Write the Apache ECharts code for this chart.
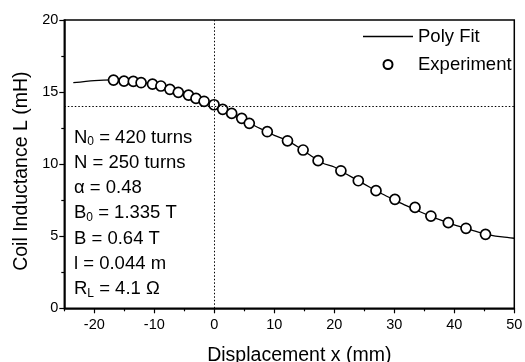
<!DOCTYPE html>
<html>
<head>
<meta charset="utf-8">
<script src="https://cdn.jsdelivr.net/npm/echarts@6/dist/echarts.min.js"></script>
<style>html,body{margin:0;padding:0;background:#fff;}#c{width:525px;height:362px;}</style>
</head>
<body>
<div id="c"></div>
<script>
// Experimental points
var expX = [-16.8,-15.05,-13.5,-12.2,-10.3,-8.9,-7.4,-6.0,-4.3,-3.05,-1.7,-0.05,1.4,2.9,4.57,5.83,8.83,12.2,14.8,17.3,21.1,24.0,26.95,30.1,33.45,36.1,39.0,41.95,45.2];
var expL = [15.83,15.76,15.74,15.65,15.55,15.42,15.19,14.98,14.79,14.56,14.36,14.12,13.8,13.52,13.18,12.83,12.25,11.62,10.98,10.24,9.54,8.85,8.16,7.56,7.0,6.4,5.94,5.55,5.13];
// Poly fit curve
var fitX = [-23.5,-20,-17,-14,-11,-8,-5,-2,0,2,4,6,8,10,12,14,16,18,20,22,24,26,28,30,32,34,36,38,40,42,44,46,48,50];
var fitL = [15.65,15.8,15.85,15.76,15.6,15.33,14.9,14.42,14.1,13.72,13.3,12.82,12.4,12.0,11.67,11.18,10.62,10.08,9.8,9.32,8.85,8.38,7.93,7.52,7.12,6.75,6.4,6.08,5.78,5.52,5.28,5.08,4.95,4.86];
// Axis ticks
var xMajorTicks = [-20,-10,0,10,20,30,40,50];
var xMinorTicks = [-25,-15,-5,5,15,25,35,45];
var refX = 0;
var refL = 14.03;
var paramLines = [
  '{n|N}{s|0}{n| = 420 turns}',
  '{n|N = 250 turns}',
  '{n|\u03b1 = 0.48}',
  '{n|B}{s|0}{n| = 1.335 T}',
  '{n|B = 0.64 T}',
  '{n|l = 0.044 m}',
  '{n|R}{s|L}{n| = 4.1 \u03a9}'
];

var FONT = 'Liberation Sans, Arial, Helvetica, sans-serif';
var chart = echarts.init(document.getElementById('c'), null, {renderer: 'canvas'});
var axisCommon = {
  type: 'value', min: -25, max: 50, interval: 5,
  axisLine: {show: true, onZero: false, lineStyle: {color: '#000', width: 1.5}},
  splitLine: {show: false}
};
chart.setOption({
  animation: false,
  backgroundColor: '#fff',
  textStyle: {fontFamily: FONT, color: '#000'},
  grid: {left: 64.3, right: 10.7, top: 20, bottom: 53.7, show: true, borderColor: '#000', borderWidth: 1.5, backgroundColor: 'transparent', containLabel: false, outerBoundsMode: 'none'},
  legend: {
    orient: 'vertical', left: 363, top: 27, padding: 0,
    itemWidth: 50, itemHeight: 9, itemGap: 9,
    textStyle: {fontSize: 18.5, color: '#000', fontFamily: FONT},
    data: [
      {name: 'Poly Fit', icon: 'path://M0,0L50,0L50,1.3L0,1.3Z', itemStyle: {color: '#000', borderWidth: 0}},
      {name: 'Experiment'}
    ]
  },
  xAxis: [
    Object.assign({}, axisCommon, {
      name: 'Displacement x (mm)', nameLocation: 'middle', nameGap: 37,
      nameTextStyle: {fontSize: 19.5, color: '#000', fontFamily: FONT, padding: [0, 0, 0, 20]},
      axisTick: {show: true, inside: false, length: 5, lineStyle: {color: '#000', width: 1.2}, customValues: xMajorTicks},
      axisLabel: {show: true, fontSize: 14.5, color: '#000', margin: 9, fontFamily: FONT, customValues: xMajorTicks}
    }),
    Object.assign({}, axisCommon, {
      position: 'bottom',
      axisLine: {show: false, onZero: false},
      axisTick: {show: true, inside: false, length: 3, lineStyle: {color: '#000', width: 1.2}, customValues: xMinorTicks},
      axisLabel: {show: false}
    })
  ],
  yAxis: {
    type: 'value', min: 0, max: 20, interval: 5,
    name: 'Coil Inductance L (mH)', nameLocation: 'middle', nameGap: 33,
    nameTextStyle: {fontSize: 19.5, color: '#000', fontFamily: FONT, padding: [0, 14, 0, 0]},
    axisLine: {show: true, onZero: false, lineStyle: {color: '#000', width: 1.5}},
    axisTick: {show: true, inside: false, length: 5, lineStyle: {color: '#000', width: 1.2}},
    minorTick: {show: true, splitNumber: 2, length: 3, lineStyle: {color: '#000', width: 1.2}},
    axisLabel: {fontSize: 14.5, color: '#000', margin: 6, fontFamily: FONT},
    splitLine: {show: false}
  },
  graphic: [{
    type: 'text', left: 74, top: 127,
    style: {
      text: paramLines.join('\n'),
      fontFamily: FONT,
      rich: {
        n: {fontSize: 18.5, lineHeight: 25.3, fill: '#000', fontFamily: FONT},
        s: {fontSize: 12, lineHeight: 25.3, fill: '#000', fontFamily: FONT, padding: [9, 0, 0, 0]}
      }
    }
  }],
  series: [
    {
      name: 'Poly Fit', type: 'line', xAxisIndex: 0,
      data: fitX.map(function (x, i) { return [x, fitL[i]]; }),
      symbol: 'none', smooth: 0.3,
      lineStyle: {color: '#000', width: 1.3},
      itemStyle: {color: '#000'},
      z: 2,
      markLine: {
        silent: true, symbol: 'none', label: {show: false},
        lineStyle: {color: '#000', type: [1.5, 2], width: 1},
        data: [{xAxis: refX}, {yAxis: refL}]
      }
    },
    {
      name: 'Experiment', type: 'scatter', xAxisIndex: 0,
      data: expX.map(function (x, i) { return [x, expL[i]]; }),
      symbol: 'circle', symbolSize: 10,
      itemStyle: {color: '#fff', borderColor: '#000', borderWidth: 1.7, opacity: 1},
      z: 3
    }
  ]
});
</script>
</body>
</html>
